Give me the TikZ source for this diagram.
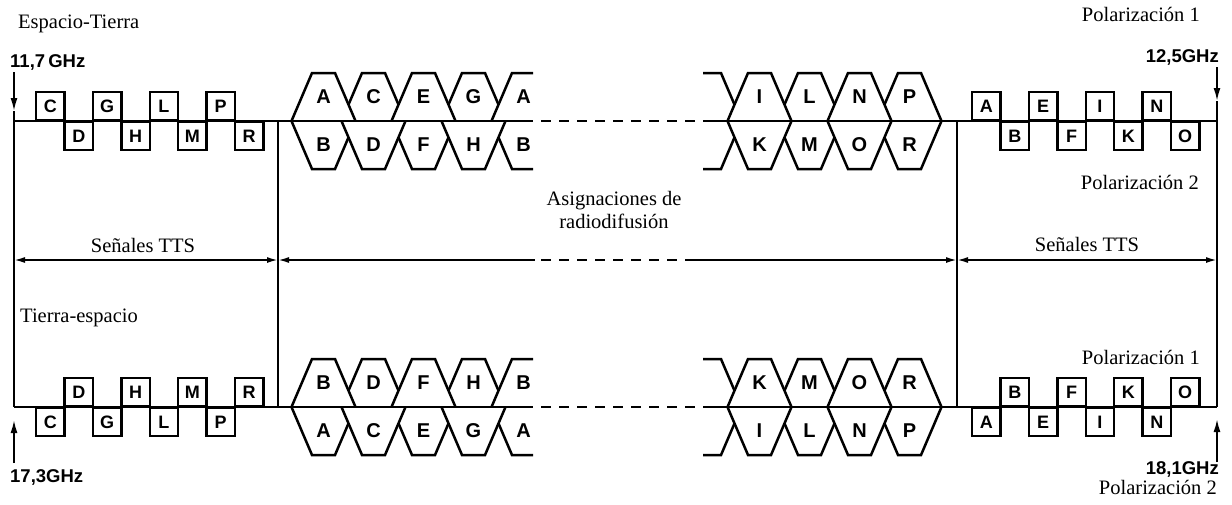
\documentclass[tikz,border=0pt]{standalone}
\usepackage{fontspec}
\setmainfont{Liberation Serif}
\newfontfamily\labfont{Liberation Sans}
\usetikzlibrary{arrows.meta}

% channel outlines above (chanU) and below (chanD) a frequency axis
% #1 = x of the upper-left corner of the narrow side, #2 = axis y, #3 = node name, #4 = letter
\newcommand\chanU[4]{%
  \filldraw[chan] (#1-20.5,#2) -- (#1,#2-48) -- (#1+23,#2-48) -- (#1+43.5,#2);
  \node[hexlbl] (#3) at (#1+11.5,#2-24) {#4};}
\newcommand\chanD[4]{%
  \filldraw[chan] (#1-20.5,#2) -- (#1,#2+48) -- (#1+23,#2+48) -- (#1+43.5,#2);
  \node[hexlbl] (#3) at (#1+11.5,#2+24) {#4};}
% channels cut open on the right (end of a group)
\newcommand\chanUR[4]{%
  \fill[white] (#1-20.5,#2) -- (#1,#2-48) -- (#1+21,#2-48) -- (#1+21,#2) -- cycle;
  \draw[chan] (#1-20.5,#2) -- (#1,#2-48) -- (#1+21,#2-48);
  \node[hexlbl] (#3) at (#1+11.5,#2-24) {#4};}
\newcommand\chanDR[4]{%
  \fill[white] (#1-20.5,#2) -- (#1,#2+48) -- (#1+21,#2+48) -- (#1+21,#2) -- cycle;
  \draw[chan] (#1-20.5,#2) -- (#1,#2+48) -- (#1+21,#2+48);
  \node[hexlbl] (#3) at (#1+11.5,#2+24) {#4};}
% channels cut open on the left (start of a group)
\newcommand\chanUL[2]{%
  \fill[white] (#1+5,#2-48) -- (#1+23,#2-48) -- (#1+43.5,#2) -- (#1+5,#2) -- cycle;
  \draw[chan] (#1+5,#2-48) -- (#1+23,#2-48) -- (#1+43.5,#2);}
\newcommand\chanDL[2]{%
  \fill[white] (#1+5,#2+48) -- (#1+23,#2+48) -- (#1+43.5,#2) -- (#1+5,#2) -- cycle;
  \draw[chan] (#1+5,#2+48) -- (#1+23,#2+48) -- (#1+43.5,#2);}

\begin{document}
\begin{tikzpicture}[x=1pt,y=-1pt,
  chan/.style={draw=black,fill=white,line width=2.5pt,line join=miter},
  hexlbl/.style={inner sep=0pt,font=\labfont\bfseries\fontsize{20}{20}\selectfont},
  chbox/.style={draw,line width=2.3pt,minimum width=28.4pt,minimum height=28pt,
    inner sep=0pt,font=\labfont\bfseries\fontsize{18}{18}\selectfont},
  axis/.style={line width=2.5pt},
  axisdash/.style={line width=2.5pt,dash pattern=on 10pt off 8pt},
  vline/.style={line width=1.9pt},
  divline/.style={line width=1.4pt},
  tip/.style={-{Latex[length=13pt,width=7pt]}},
  dimtip/.style={line width=1.8pt,{Latex[length=11pt,width=6pt]}-{Latex[length=11pt,width=6pt]}},
  rm/.style={inner sep=0pt,font=\fontsize{20.5}{23}\selectfont},
  ghz/.style={inner sep=0pt,font=\labfont\bfseries\fontsize{18.5}{18.5}\selectfont}
]
\useasboundingbox (0,0) rectangle (1232,504);

% ---------- frequency axes and frame lines ----------
\coordinate (TL) at (14,121);   \coordinate (TR) at (1217,121);
\coordinate (BL) at (14,407);   \coordinate (BR) at (1217,407);
\coordinate (TD1) at (278,121); \coordinate (BD1) at (278,407);
\coordinate (TD2) at (957,121); \coordinate (BD2) at (957,407);

% ---------- upper band: broadcasting channels ----------
% polarization 1 (above the axis)
\chanU{362}{121}{uC}{C}
\chanU{462}{121}{uG}{G}
\chanU{312}{121}{uA}{A}
\chanU{412}{121}{uE}{E}
\chanUR{512}{121}{uA2}{A}
\chanUL{698}{121}
\chanU{798}{121}{uL}{L}
\chanU{898}{121}{uP}{P}
\chanU{748}{121}{uI}{I}
\chanU{848}{121}{uN}{N}
% polarization 2 (below the axis)
\chanD{312}{121}{dB}{B}
\chanD{412}{121}{dF}{F}
\chanDR{512}{121}{dB2}{B}
\chanD{362}{121}{dD}{D}
\chanD{462}{121}{dH}{H}
\chanDL{698}{121}
\chanD{798}{121}{dM}{M}
\chanD{898}{121}{dR}{R}
\chanD{748}{121}{dK}{K}
\chanD{848}{121}{dO}{O}

% ---------- lower band: broadcasting channels ----------
\chanU{362}{407}{lD}{D}
\chanU{462}{407}{lH}{H}
\chanU{312}{407}{lB}{B}
\chanU{412}{407}{lF}{F}
\chanUR{512}{407}{lB2}{B}
\chanUL{698}{407}
\chanU{798}{407}{lM}{M}
\chanU{898}{407}{lR}{R}
\chanU{748}{407}{lK}{K}
\chanU{848}{407}{lO}{O}
\chanD{312}{407}{mA}{A}
\chanD{412}{407}{mE}{E}
\chanDR{512}{407}{mA2}{A}
\chanD{362}{407}{mC}{C}
\chanD{462}{407}{mG}{G}
\chanDL{698}{407}
\chanD{798}{407}{mL}{L}
\chanD{898}{407}{mP}{P}
\chanD{748}{407}{mI}{I}
\chanD{848}{407}{mN}{N}

% ---------- axes ----------
\coordinate (TA1) at (533,121); \coordinate (TA2) at (703,121);
\coordinate (BA1) at (533,407); \coordinate (BA2) at (703,407);
\draw[axis] (TL) -- (TA1);
\draw[axisdash] ([xshift=8pt]TA1) -- (TA2);
\draw[axis] (TA2) -- (TR);
\draw[axis] (BL) -- (BA1);
\draw[axisdash] ([xshift=8pt]BA1) -- (BA2);
\draw[axis] (BA2) -- (BR);

% ---------- TTS signal slots ----------
\foreach \l [count=\i from 0] in {C,D,G,H,L,M,P,R} {
  \pgfmathsetmacro\bx{35+28.4*\i}
  \ifodd\i
    \node[chbox,anchor=north west] (ts\l) at (\bx,121) {\l};
    \node[chbox,anchor=south west] (bs\l) at (\bx,407) {\l};
  \else
    \node[chbox,anchor=south west] (ts\l) at (\bx,121) {\l};
    \node[chbox,anchor=north west] (bs\l) at (\bx,407) {\l};
  \fi
}
\foreach \l [count=\i from 0] in {A,B,E,F,I,K,N,O} {
  \pgfmathsetmacro\bx{971+28.4*\i}
  \ifodd\i
    \node[chbox,anchor=north west] (tr\l) at (\bx,121) {\l};
    \node[chbox,anchor=south west] (br\l) at (\bx,407) {\l};
  \else
    \node[chbox,anchor=south west] (tr\l) at (\bx,121) {\l};
    \node[chbox,anchor=north west] (br\l) at (\bx,407) {\l};
  \fi
}

% ---------- vertical band edges and dividers ----------
\coordinate (LT) at (14,72);    \coordinate (LA) at (14,111);
\coordinate (LB) at (14,463);   \coordinate (LBA) at (14,420);
\coordinate (RT) at (1217,67);  \coordinate (RA) at (1217,101);
\coordinate (RB) at (1217,462); \coordinate (RBA) at (1217,419);
\draw[vline,tip] (LT) -- (LA);
\draw[vline] (LA) -- (BL);
\draw[vline,tip] (LB) -- (LBA);
\draw[vline,tip] (RT) -- (RA);
\draw[vline] (RA) -- (BR);
\draw[vline,tip] (RB) -- (RBA);
\draw[divline] (TD1) -- (BD1);
\draw[divline] (TD2) -- (BD2);

% ---------- extent arrows ----------
\coordinate (M0) at (14,260);  \coordinate (M1) at (278,260);
\coordinate (M2) at (535,260); \coordinate (M3) at (690,260);
\coordinate (M4) at (957,260); \coordinate (M5) at (1217,260);
\draw[dimtip] (M0) -- (M1);
\draw[line width=1.8pt,{Latex[length=11pt,width=6pt]}-] (M1) -- (M2);
\draw[line width=1.8pt,dash pattern=on 10pt off 8pt] ([xshift=6pt]M2) -- (M3);
\draw[line width=1.8pt,-{Latex[length=11pt,width=6pt]}] (M3) -- (M4);
\draw[dimtip] (M4) -- (M5);

% ---------- texts ----------
\node[rm,anchor=base west] (espT) at (18,28) {Espacio-Tierra};
\node[ghz,anchor=base west] (f117) at (10,67) {11,7\,GHz};
\node[rm,anchor=base east] (pol1a) at (1200,21) {Polarización 1};
\node[ghz,anchor=base east] (f125) at (1219,62) {12,5GHz};
\node[rm,anchor=base east] (pol2a) at (1199,189) {Polarización 2};
\node[rm,anchor=base,align=center] (asig) at (614,228) {Asignaciones de\\radiodifusión};
\node[rm,anchor=base] (ttsL) at (143,252) {Señales TTS};
\node[rm,anchor=base] (ttsR) at (1087,251) {Señales TTS};
\node[rm,anchor=base west] (tieE) at (20,322) {Tierra-espacio};
\node[rm,anchor=base east] (pol1b) at (1200,364) {Polarización 1};
\node[ghz,anchor=base west] (f173) at (10,482) {17,3GHz};
\node[ghz,anchor=base east] (f181) at (1219,474) {18,1GHz};
\node[rm,anchor=base east] (pol2b) at (1217,494) {Polarización 2};
\end{tikzpicture}
\end{document}
